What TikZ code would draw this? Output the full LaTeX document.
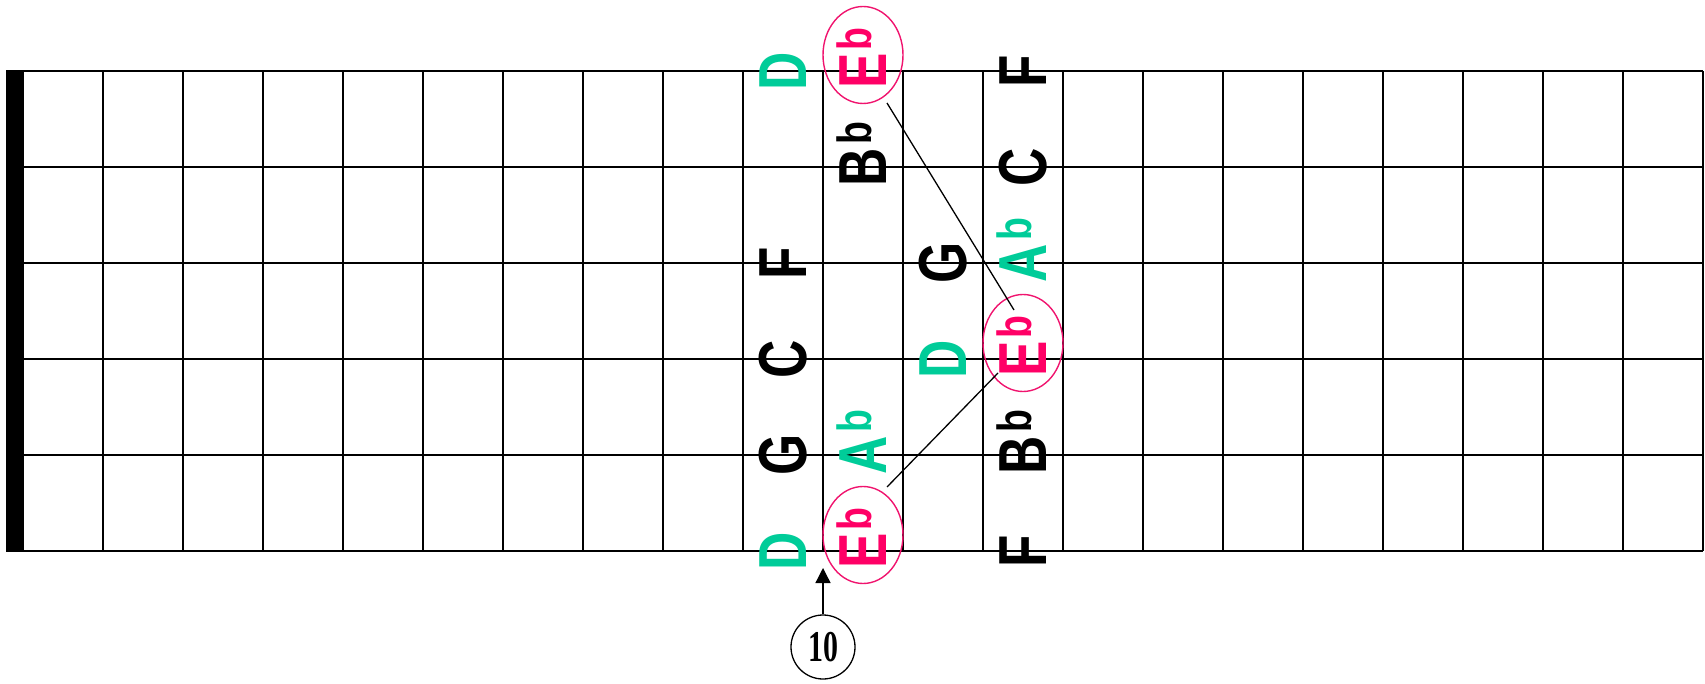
\documentclass[tikz,border=0pt]{standalone}
\usepackage{fontspec}
\usepackage{graphicx}
\setmainfont{Liberation Sans}
\newfontfamily\circfont{Liberation Serif}
\usetikzlibrary{shapes.geometric,arrows.meta}
\definecolor{notepink}{RGB}{255,0,102}
\definecolor{notegreen}{RGB}{0,204,153}
\definecolor{ringpink}{RGB}{240,20,110}
\newcommand\notetxt[2]{\scalebox{0.78}[1]{\bfseries\fontsize{68}{70}\selectfont #1\rlap{\kern4pt\raisebox{15pt}[0pt][0pt]{\fontsize{48}{48}\selectfont #2}}}}
\begin{document}
\begin{tikzpicture}[x=1pt,y=-1pt,
  gridline/.style={line width=2pt,black},
  notebox/.style={inner sep=0pt,outer sep=0pt,rotate=90,anchor=center},
  nblack/.style={notebox,text=black},
  ngreen/.style={notebox,text=notegreen},
  npink/.style={notebox,text=notepink},
  ring/.style={draw=ringpink,line width=1.4pt,ellipse,minimum width=80pt,minimum height=97pt,inner sep=0pt},
  link/.style={line width=1.3pt,black},
  fretmark/.style={draw,circle,line width=1.3pt,minimum size=64pt,inner sep=0pt,font=\circfont\bfseries\fontsize{44}{44}\selectfont}
]
\useasboundingbox (0,0) rectangle (1705,684);
% nut
\fill[black] (6,70) rectangle (24,552);
% strings
\foreach \i in {0,...,5} {
  \draw[gridline] (23,71+96*\i) -- (1703,71+96*\i);
}
% frets
\foreach \k in {0,...,21} {
  \draw[gridline] (23+80*\k,71) -- (23+80*\k,551);
}
% column s10 (x=783)
\node[ngreen] (d1) at (783,71) {\notetxt{D}{}};
\node[nblack] (f3) at (783,263) {\notetxt{F}{}};
\node[nblack] (c4) at (783,359) {\notetxt{C}{}};
\node[nblack] (g5) at (783,455) {\notetxt{G}{}};
\node[ngreen] (d6) at (783,551) {\notetxt{D}{}};
% column s11 (x=863)
\node[npink] (eb1) at (863,71) {\notetxt{E}{b}};
\node[nblack] (bb2) at (863,167) {\notetxt{B}{b}};
\node[ngreen] (ab5) at (863,455) {\notetxt{A}{b}};
\node[npink] (eb6) at (863,551) {\notetxt{E}{b}};
% column s12 (x=943)
\node[nblack] (g3) at (943,263) {\notetxt{G}{}};
\node[ngreen] (d4) at (943,359) {\notetxt{D}{}};
% column s13 (x=1023)
\node[nblack] (ff1) at (1023,71) {\notetxt{F}{}};
\node[nblack] (cc2) at (1023,167) {\notetxt{C}{}};
\node[ngreen] (ab3) at (1023,263) {\notetxt{A}{b}};
\node[npink] (eb4) at (1023,359) {\notetxt{E}{b}};
\node[nblack] (bb5) at (1023,455) {\notetxt{B}{b}};
\node[nblack] (ff6) at (1023,551) {\notetxt{F}{}};
% rings
\node[ring] (r1) at (863,55) {};
\node[ring] (r2) at (1023,343) {};
\node[ring] (r3) at (863,535) {};
% links
\coordinate (l1a) at (887,103);
\coordinate (l1b) at (1014,310);
\coordinate (l2a) at (887,487);
\coordinate (l2b) at (998,373);
\draw[link] (l1a) -- (l1b);
\draw[link] (l2a) -- (l2b);
% fret marker
\node[fretmark] (m10) at (823,647) {\scalebox{0.68}[1]{10}};
\coordinate (tip) at (823,568);
\draw[line width=1.3pt,-{Triangle[width=15pt,length=15pt]}] (m10.north) -- (tip);
\end{tikzpicture}
\end{document}
